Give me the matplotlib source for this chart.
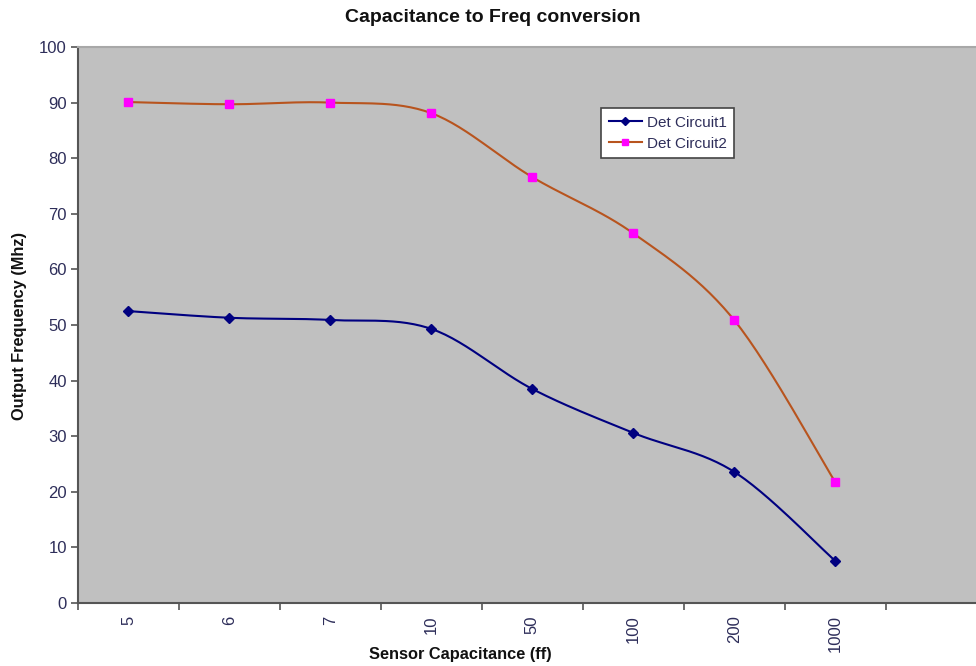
import numpy as np
import matplotlib
matplotlib.use("Agg")
import matplotlib.pyplot as plt
from matplotlib.lines import Line2D

plt.rcParams['font.family'] = ['Liberation Sans', 'DejaVu Sans']

categories = ["5", "6", "7", "10", "50", "100", "200", "1000"]
circuit1 = [52.5, 51.3, 50.9, 49.3, 38.5, 30.6, 23.6, 7.6]
circuit2 = [90.1, 89.7, 90.0, 88.1, 76.6, 66.5, 50.9, 21.8]
yticks = [0, 10, 20, 30, 40, 50, 60, 70, 80, 90, 100]


def smooth_curve(xs, ys, steps=30):
    """Cubic Bezier smoothing through every point (Catmull-Rom style)."""
    xs = np.asarray(xs, float)
    ys = np.asarray(ys, float)
    n = len(xs)
    out_x, out_y = [], []
    t = np.linspace(0, 1, steps)
    for i in range(n - 1):
        p0 = np.array([xs[max(i - 1, 0)], ys[max(i - 1, 0)]])
        p1 = np.array([xs[i], ys[i]])
        p2 = np.array([xs[i + 1], ys[i + 1]])
        p3 = np.array([xs[min(i + 2, n - 1)], ys[min(i + 2, n - 1)]])
        c1 = p1 + (p2 - p0) / 6.0
        c2 = p2 - (p3 - p1) / 6.0
        b = ((1 - t) ** 3)[:, None] * p1 + (3 * (1 - t) ** 2 * t)[:, None] * c1 \
            + (3 * (1 - t) * t ** 2)[:, None] * c2 + (t ** 3)[:, None] * p2
        out_x.extend(b[:, 0])
        out_y.extend(b[:, 1])
    return np.array(out_x), np.array(out_y)


fig = plt.figure(figsize=(9.76, 6.66), dpi=100)
ax = fig.add_axes([78 / 976, 1 - 603 / 666, 1 - 78 / 976, (603 - 47) / 666])
ax.set_facecolor('#C0C0C0')

x = np.arange(len(categories))
c1_color = '#000080'
c2_color = '#B8541E'

sx, sy = smooth_curve(x, circuit1)
ax.plot(sx, sy, color=c1_color, lw=1.5, zorder=3)
ax.plot(x, circuit1, linestyle='none', marker='D', ms=5, color=c1_color, zorder=4)

sx, sy = smooth_curve(x, circuit2)
ax.plot(sx, sy, color=c2_color, lw=1.5, zorder=3)
ax.plot(x, circuit2, linestyle='none', marker='s', ms=6, color='#FF00FF',
        markeredgecolor='#FF00FF', zorder=4)

ax.set_ylim(0, 100)
ax.set_xlim(-0.5, (976 - 128) / 101.0)
ax.set_yticks(yticks)
ax.set_yticklabels([str(v) for v in yticks], fontsize=12, color='#2E2E5A')

ax.set_xticks(x)
ax.set_xticklabels(categories, rotation=90, fontsize=12, color='#2E2E5A')
ax.set_xticks(np.arange(-0.5, 8.0, 1.0), minor=True)
ax.tick_params(axis='x', which='major', length=0, pad=9)
ax.tick_params(axis='x', which='minor', length=5, width=1.2, color='#555555', direction='out')
ax.tick_params(axis='y', length=5, width=1.2, color='#555555', direction='out', pad=3)

for side in ['left', 'bottom']:
    ax.spines[side].set_color('#555555')
    ax.spines[side].set_linewidth(1.5)
ax.spines['top'].set_color('#A8A8A8')
ax.spines['top'].set_linewidth(1.5)
ax.spines['right'].set_visible(False)

fig.text(493 / 976, 1 - 17 / 666, 'Capacitance to Freq conversion', ha='center', va='center',
         fontsize=14, fontweight='bold', color='#111111')
fig.text(460 / 976, 1 - 655 / 666, 'Sensor Capacitance (ff)', ha='center', va='center',
         fontsize=11.8, fontweight='bold', color='#111111')
fig.text(20 / 976, 1 - 326 / 666, 'Output Frequency (Mhz)', ha='center', va='center',
         rotation=90, fontsize=11.8, fontweight='bold', color='#111111')

handles = [
    Line2D([0], [0], color=c1_color, lw=1.5, marker='D', ms=4, markerfacecolor=c1_color),
    Line2D([0], [0], color=c2_color, lw=1.5, marker='s', ms=5, markerfacecolor='#FF00FF',
           markeredgecolor='#FF00FF'),
]
leg = ax.legend(handles, ['Det Circuit1', 'Det Circuit2'], loc='upper left',
                bbox_to_anchor=((601 - 78) / 898, 1 - (108 - 47) / 556),
                fontsize=11, frameon=True, fancybox=False, handlelength=2.2,
                borderpad=0.5, labelspacing=0.45, handletextpad=0.3, borderaxespad=0)
leg.get_frame().set_edgecolor('#444444')
leg.get_frame().set_linewidth(1.2)
leg.get_frame().set_facecolor('white')
leg.get_frame().set_alpha(1)
for t in leg.get_texts():
    t.set_color('#2E2E5A')

fig.savefig('out.png', dpi=100, facecolor='white')
